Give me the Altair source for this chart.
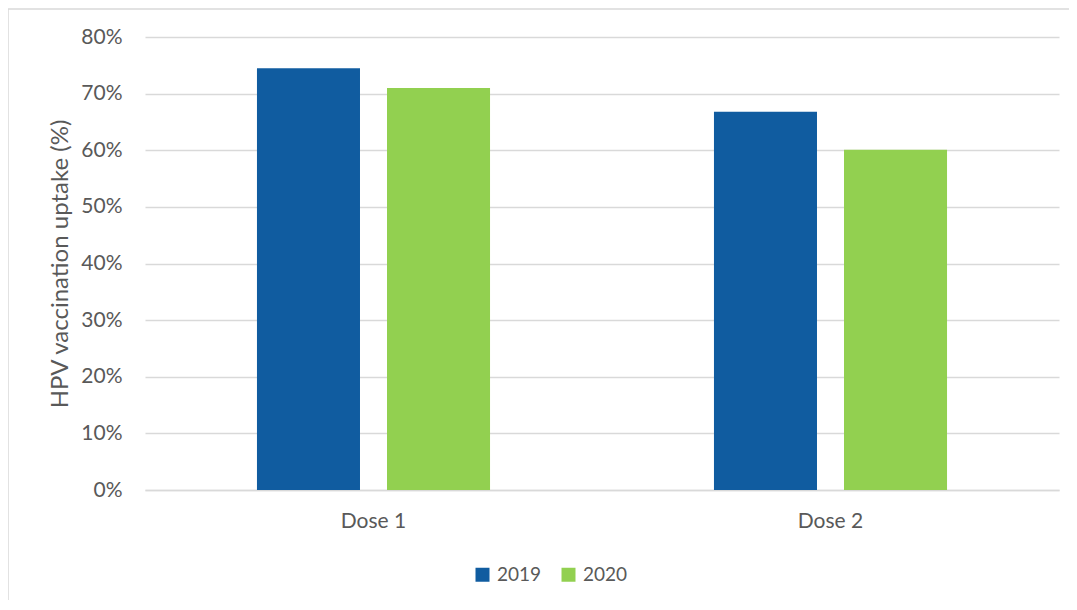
import altair as alt
import pandas as pd

doses = ["Dose 1", "Dose 2"]
years = ["2019", "2020"]
uptake_2019 = [74.5, 66.8]
uptake_2020 = [71.0, 60.1]
colors = ["#105CA0", "#92D050"]
y_ticks = [0, 10, 20, 30, 40, 50, 60, 70, 80]

rows = []
for i, d in enumerate(doses):
    rows.append({"dose": d, "year": years[0], "uptake": uptake_2019[i]})
    rows.append({"dose": d, "year": years[1], "uptake": uptake_2020[i]})
df = pd.DataFrame(rows)

FONT = "Lato"
GREY = "#595959"

bars = alt.Chart(df).mark_bar().encode(
    x=alt.X("dose:N", sort=doses, title=None,
            scale=alt.Scale(paddingInner=0.49, paddingOuter=0.245),
            axis=alt.Axis(labelAngle=0, labelFontSize=21, labelColor=GREY, labelFont=FONT,
                          ticks=False, domain=True, domainColor="#d9d9d9", domainWidth=1.5,
                          labelPadding=20, grid=False)),
    xOffset=alt.XOffset("year:N", sort=years,
                        scale=alt.Scale(paddingInner=0.2077, paddingOuter=0)),
    y=alt.Y("uptake:Q", title="HPV vaccination uptake (%)",
            scale=alt.Scale(domain=[0, 80], nice=False),
            axis=alt.Axis(values=y_ticks, labelExpr="datum.value + '%'",
                          labelFontSize=21, labelColor=GREY, labelFont=FONT,
                          titleFontSize=24, titleColor=GREY, titleFont=FONT,
                          titleFontWeight="normal", titlePadding=8,
                          ticks=False, domain=False, labelPadding=23,
                          grid=True, gridColor="#d9d9d9", gridWidth=1.5)),
    color=alt.Color("year:N", sort=years,
                    scale=alt.Scale(domain=years, range=colors),
                    legend=alt.Legend(title=None, orient="none", legendX=328, legendY=528,
                                      direction="horizontal", symbolType="square",
                                      symbolSize=196, symbolStrokeWidth=0,
                                      labelFontSize=19, labelColor=GREY, labelFont=FONT,
                                      columnPadding=17, labelOffset=5)),
)

frame = alt.Chart(pd.DataFrame({"f": [0]})).mark_rect(
    fill=None, stroke="#d9d9d9", strokeWidth=1.5
).encode(
    x=alt.value(-137), y=alt.value(-28), x2=alt.value(1000), y2=alt.value(700)
)

chart = alt.layer(frame, bars).properties(
    width=914, height=453,
    autosize=alt.AutoSizeParams(type="none"),
    padding={"left": 137, "top": 29, "right": 10, "bottom": 110},
).configure_view(stroke=None)

chart.save("out.html", embed_options={"renderer": "svg", "actions": False})
